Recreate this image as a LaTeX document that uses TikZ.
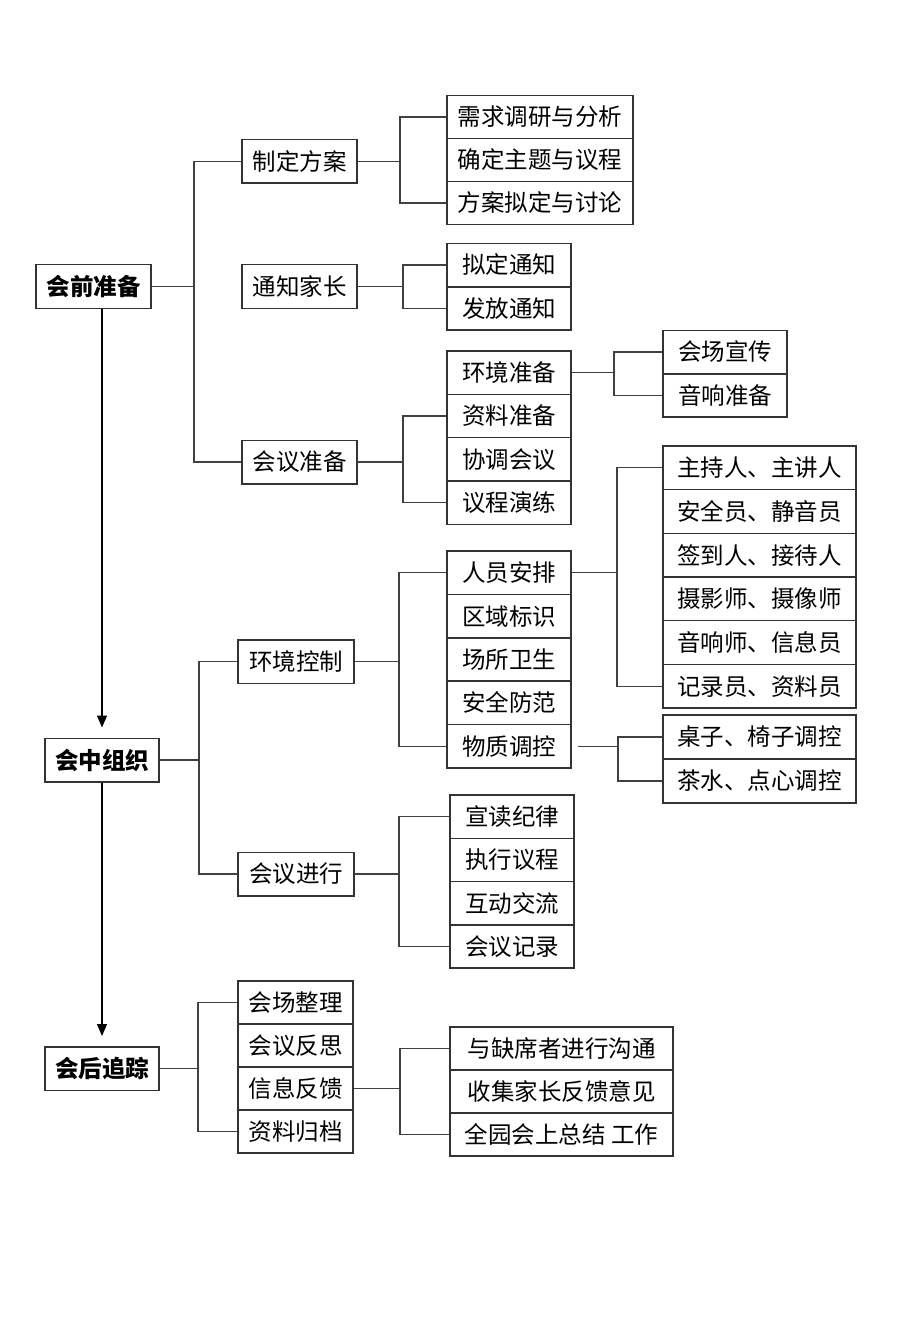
\documentclass[tikz,border=0pt]{standalone}
\usepackage{fontspec}
\newfontfamily\cjk{Noto Sans CJK SC}
\usetikzlibrary{arrows.meta}
\begin{document}
\begin{tikzpicture}[x=1pt,y=-1pt,
  box/.style={draw=black!80, line width=1.5pt, inner sep=0pt, text=black,
    font=\cjk\fontsize{23.5}{24}\selectfont},
  topbox/.style={box, font=\cjk\bfseries\fontsize{23.5}{24}\selectfont},
  conn/.style={draw=black!75, line width=1.3pt},
  arr/.style={draw=black, line width=1.1pt, -{Triangle[width=10pt,length=12pt]}, shorten >=10pt},
  wa/.style={minimum width=115, minimum height=43.5},
  wb/.style={minimum width=124, minimum height=43.4},
  wc/.style={minimum width=186, minimum height=43},
  wd/.style={minimum width=193, minimum height=43.6},
  we/.style={minimum width=223, minimum height=43}]
\useasboundingbox (0,0) rectangle (920,1329);
\fill[white] (0,0) rectangle (920,1329);

% top level
\node[topbox, wa] (L1a) at (93.5,286.5) {会前准备};
\node[topbox, wa, minimum width=114] (L1b) at (102,760) {会中组织};
\node[topbox, wa, minimum width=114] (L1c) at (102,1068.5) {会后追踪};

% level 2 of 会前准备
\node[box, wa] (A1) at (299.5,161.5) {制定方案};
\node[box, wa] (A2) at (299.5,286.5) {通知家长};
\node[box, wa] (A3) at (299.5,462) {会议准备};

\node[box, wc] (A1a) at (540,117) {需求调研与分析};
\node[box, wc] (A1b) at (540,160) {确定主题与议程};
\node[box, wc] (A1c) at (540,203) {方案拟定与讨论};

\node[box, wb] (A2a) at (509,265) {拟定通知};
\node[box, wb] (A2b) at (509,308.5) {发放通知};

\node[box, wb] (A3a) at (509,372.7) {环境准备};
\node[box, wb] (A3b) at (509,416) {资料准备};
\node[box, wb] (A3c) at (509,459.3) {协调会议};
\node[box, wb] (A3d) at (509,502.6) {议程演练};

\node[box, wb] (A3a1) at (725,352) {会场宣传};
\node[box, wb] (A3a2) at (725,395.5) {音响准备};

% level 2 of 会中组织
\node[box, wa, minimum width=116] (B1) at (296,661.5) {环境控制};
\node[box, wa, minimum width=116] (B2) at (296,874) {会议进行};

\node[box, wb] (B1a) at (509,572.7) {人员安排};
\node[box, wb] (B1b) at (509,616.1) {区域标识};
\node[box, wb] (B1c) at (509,659.5) {场所卫生};
\node[box, wb] (B1d) at (509,702.9) {安全防范};
\node[box, wb] (B1e) at (509,746.3) {物质调控};

\node[box, wd] (P1) at (759.5,467.8) {主持人、主讲人};
\node[box, wd] (P2) at (759.5,511.5) {安全员、静音员};
\node[box, wd] (P3) at (759.5,555.2) {签到人、接待人};
\node[box, wd] (P4) at (759.5,598.8) {摄影师、摄像师};
\node[box, wd] (P5) at (759.5,642.5) {音响师、信息员};
\node[box, wd] (P6) at (759.5,686.2) {记录员、资料员};

\node[box, wd, minimum height=44] (Q1) at (759.5,737) {桌子、椅子调控};
\node[box, wd, minimum height=44] (Q2) at (759.5,781) {茶水、点心调控};

\node[box, wb, minimum height=43.3] (B2a) at (512,816.6) {宣读纪律};
\node[box, wb, minimum height=43.3] (B2b) at (512,859.9) {执行议程};
\node[box, wb, minimum height=43.3] (B2c) at (512,903.1) {互动交流};
\node[box, wb, minimum height=43.3] (B2d) at (512,946.4) {会议记录};

% level 2 of 会后追踪
\node[box, wa, minimum height=43] (C1) at (295.5,1002.5) {会场整理};
\node[box, wa, minimum height=43] (C2) at (295.5,1045.5) {会议反思};
\node[box, wa, minimum height=43] (C3) at (295.5,1088.5) {信息反馈};
\node[box, wa, minimum height=43] (C4) at (295.5,1131.5) {资料归档};

\node[box, we] (C3a) at (561.5,1048.5) {与缺席者进行沟通};
\node[box, we] (C3b) at (561.5,1091.5) {收集家长反馈意见};
\node[box, we] (C3c) at (561.5,1134.5) {全园会上总结 工作};

% spine coordinates
\coordinate (ax) at (102,0);
\coordinate (sL1a) at (194,0);
\coordinate (sA1) at (400,0);
\coordinate (sA2) at (403,0);
\coordinate (sA3) at (403,0);
\coordinate (sA3a) at (614,0);
\coordinate (sL1b) at (199,0);
\coordinate (sB1) at (399,0);
\coordinate (sB1a) at (617,0);
\coordinate (sB1e) at (618,0);
\coordinate (sB2) at (399,0);
\coordinate (sL1c) at (198,0);
\coordinate (sC3) at (400,0);

% arrows between stages
\draw[arr] (L1a.south -| ax) -- (L1b.north -| ax);
\draw[arr] (L1b.south -| ax) -- (L1c.north -| ax);

% 会前准备
\draw[conn] (L1a.east) -- (L1a.east -| sL1a);
\draw[conn] (A1.west) -- (A1.west -| sL1a) -- (A3.west -| sL1a) -- (A3.west);

\draw[conn] (A1.east) -- (A1.east -| sA1);
\draw[conn] (A1a.west) -- (A1a.west -| sA1) -- (A1c.west -| sA1) -- (A1c.west);

\draw[conn] (A2.east) -- (A2.east -| sA2);
\draw[conn] (A2a.west) -- (A2a.west -| sA2) -- (A2b.west -| sA2) -- (A2b.west);

\draw[conn] (A3.east) -- (A3.east -| sA3);
\draw[conn] (A3b.west) -- (A3b.west -| sA3) -- (A3d.west -| sA3) -- (A3d.west);

\draw[conn] (A3a.east) -- (A3a.east -| sA3a);
\draw[conn] (A3a1.west) -- (A3a1.west -| sA3a) -- (A3a2.west -| sA3a) -- (A3a2.west);

% 会中组织
\draw[conn] (L1b.east) -- (L1b.east -| sL1b);
\draw[conn] (B1.west) -- (B1.west -| sL1b) -- (B2.west -| sL1b) -- (B2.west);

\draw[conn] (B1.east) -- (B1.east -| sB1);
\draw[conn] (B1a.west) -- (B1a.west -| sB1) -- (B1e.west -| sB1) -- (B1e.west);

\draw[conn] (B1a.east) -- (B1a.east -| sB1a);
\draw[conn] (P1.west) -- (P1.west -| sB1a) -- (P6.west -| sB1a) -- (P6.west);

\draw[conn] (B1e.east) ++(6,0) -- (B1e.east -| sB1e);
\draw[conn] (Q1.west) -- (Q1.west -| sB1e) -- (Q2.west -| sB1e) -- (Q2.west);

\draw[conn] (B2.east) -- (B2.east -| sB2);
\draw[conn] (B2a.west) -- (B2a.west -| sB2) -- (B2d.west -| sB2) -- (B2d.west);

% 会后追踪
\draw[conn] (L1c.east) -- (L1c.east -| sL1c);
\draw[conn] (C1.west) -- (C1.west -| sL1c) -- (C4.west -| sL1c) -- (C4.west);

\draw[conn] (C3.east) -- (C3.east -| sC3);
\draw[conn] (C3a.west) -- (C3a.west -| sC3) -- (C3c.west -| sC3) -- (C3c.west);
\end{tikzpicture}
\end{document}
